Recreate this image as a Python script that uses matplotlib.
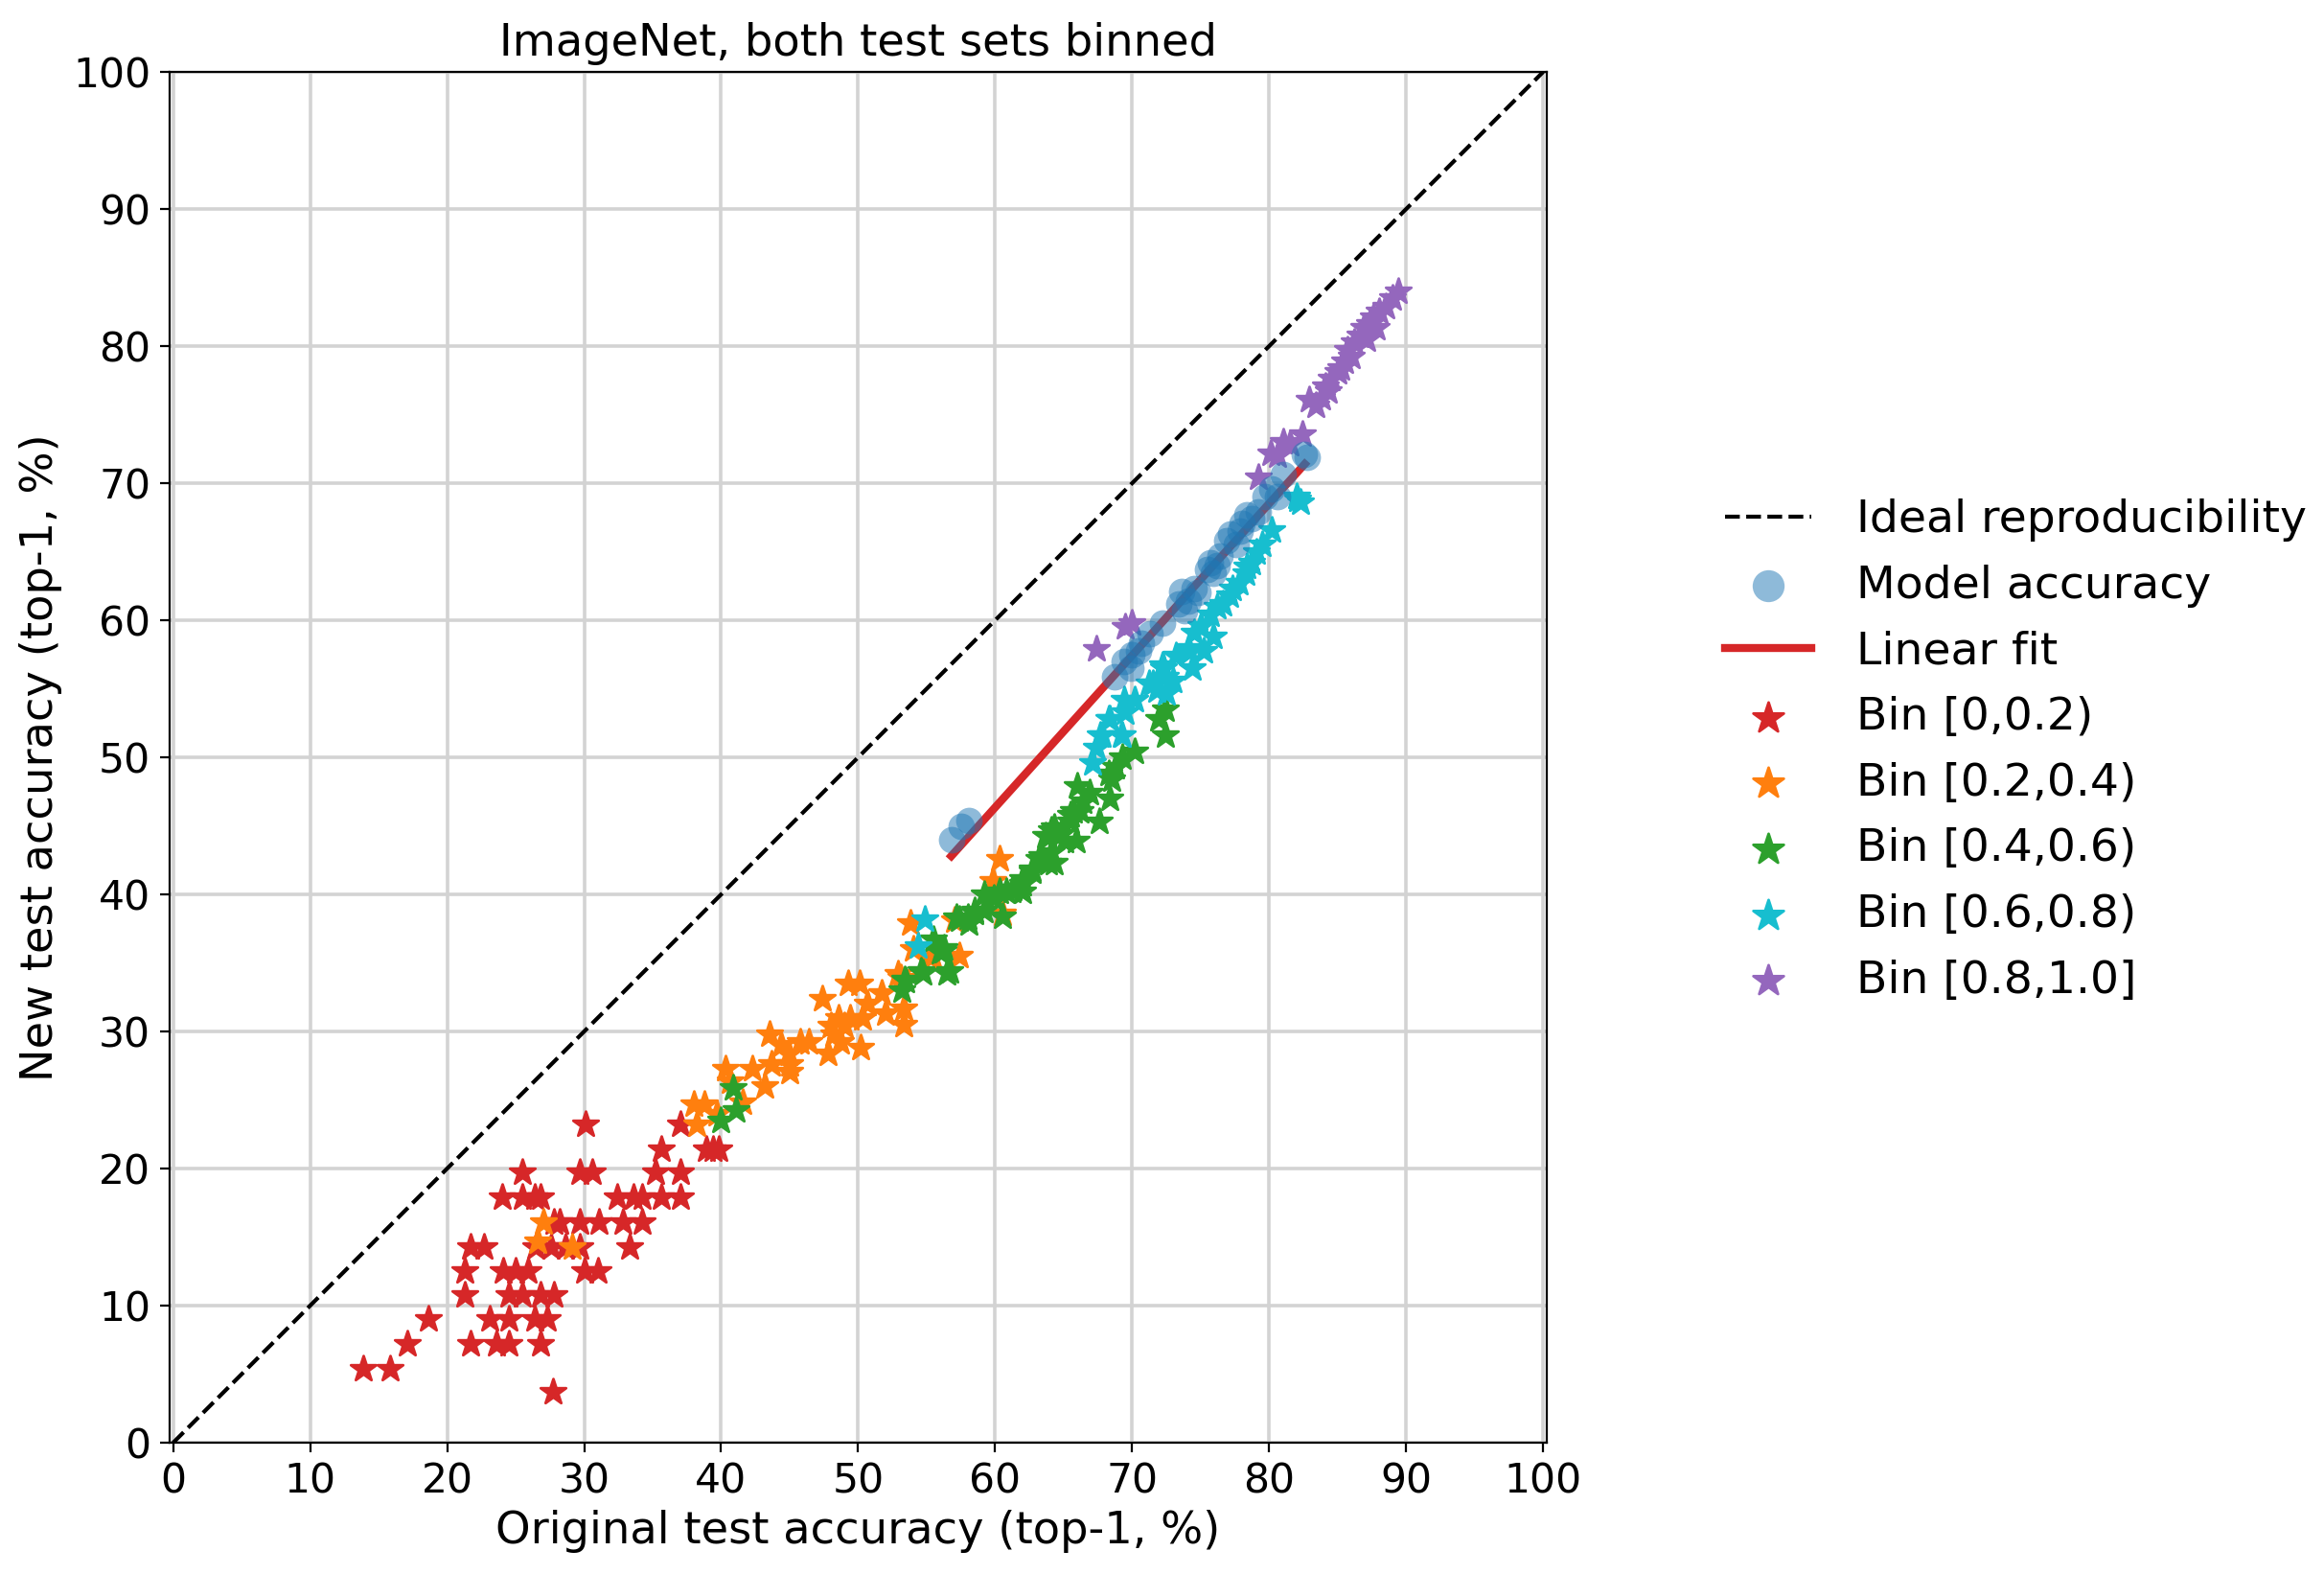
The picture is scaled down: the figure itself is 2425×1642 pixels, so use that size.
import numpy as np
import matplotlib
matplotlib.use('Agg')
import matplotlib.pyplot as plt

# values (original %, new %)
model_x = [56.8, 57.5, 58.1, 68.7, 69.4, 69.9, 70.0, 70.5, 70.7, 71.3, 72.2, 73.4, 73.6, 73.8,
           74.1, 74.5, 74.8, 75.5, 75.7, 75.9, 76.2, 76.4, 76.9, 77.2, 77.6, 77.9, 78.0, 78.4,
           78.7, 79.2, 79.7, 80.2, 80.6, 81.0, 82.6, 82.8]
model_y = [44.0, 45.0, 45.4, 55.9, 57.0, 56.5, 57.5, 57.8, 58.3, 59.0, 59.8, 61.2, 62.1, 60.7,
           61.4, 62.3, 62.0, 63.7, 64.2, 63.4, 64.0, 64.7, 65.8, 66.3, 65.5, 66.5, 67.1, 67.7,
           67.4, 67.9, 69.0, 69.6, 69.0, 70.6, 72.1, 71.9]

fit_x = [56.8, 82.6]
fit_y = [42.8, 71.4]

bin_labels = ['Bin [0,0.2)', 'Bin [0.2,0.4)', 'Bin [0.4,0.6)', 'Bin [0.6,0.8)', 'Bin [0.8,1.0]']
bin_colors = ['tab:red', 'tab:orange', 'tab:green', 'tab:cyan', 'tab:purple']

bin0_x = [30.1, 37.0, 35.6, 38.9, 39.4, 39.8, 25.5, 29.7, 30.6, 35.2, 37.0, 24.0, 25.5, 26.4,
          26.8, 32.4, 33.6, 34.2, 35.6, 37.0, 27.8, 28.2, 29.7, 31.1, 32.8, 34.2, 21.7, 22.7,
          26.5, 27.6, 28.6, 29.7, 33.3, 21.3, 24.1, 25.0, 25.9, 30.0, 31.0, 21.3, 24.5, 25.5,
          26.8, 27.8, 18.6, 23.1, 24.5, 26.4, 27.3, 17.1, 21.7, 23.6, 24.5, 26.8, 13.9, 15.8,
          27.7]
bin0_y = [23.2, 23.2, 21.4, 21.4, 21.4, 21.4, 19.7, 19.7, 19.7, 19.7, 19.7, 17.9, 17.9, 17.9,
          17.9, 17.9, 17.9, 17.9, 17.9, 17.9, 16.1, 16.1, 16.1, 16.1, 16.1, 16.1, 14.3, 14.3,
          14.3, 14.3, 14.3, 14.3, 14.3, 12.5, 12.5, 12.5, 12.5, 12.5, 12.5, 10.8, 10.8, 10.8,
          10.8, 10.8, 9.0, 9.0, 9.0, 9.0, 9.0, 7.2, 7.2, 7.2, 7.2, 7.2, 5.4, 5.4,
          3.7]

bin1_x = [27.0, 26.6, 29.1, 38.0, 38.8, 38.2, 41.6, 39.7, 40.3, 40.7, 42.3, 43.2, 43.7, 45.0,
          45.0, 44.9, 47.8, 44.4, 43.5, 45.8, 46.4, 48.7, 48.2, 50.2, 48.0, 49.0, 48.6, 49.4,
          50.3, 53.3, 52.0, 53.3, 50.7, 47.4, 51.7, 49.3, 50.1, 53.1, 52.9, 55.3, 57.4, 55.4,
          54.0, 53.8, 57.0, 60.5, 59.8, 60.3]
bin1_y = [16.1, 14.7, 14.3, 24.7, 24.7, 23.2, 24.8, 24.0, 27.3, 26.4, 27.3, 26.0, 27.6, 27.6,
          27.1, 28.4, 28.4, 29.0, 29.8, 29.2, 29.2, 29.2, 29.8, 28.8, 30.4, 30.4, 31.0, 31.0,
          31.0, 30.5, 31.3, 31.7, 32.0, 32.4, 32.8, 33.5, 33.5, 33.9, 34.2, 35.4, 35.5, 35.5,
          36.0, 37.9, 38.1, 38.6, 41.0, 42.6]

bin2_x = [40.0, 40.9, 41.1, 53.4, 53.2, 53.5, 54.6, 56.7, 54.7, 56.5, 55.5, 56.3, 56.0, 56.2,
          57.4, 58.1, 58.5, 59.2, 60.5, 59.2, 59.9, 60.3, 61.2, 62.0, 62.0, 62.7, 63.2, 63.9,
          64.1, 63.7, 64.1, 64.6, 65.1, 65.9, 65.5, 66.2, 63.4, 64.3, 64.3, 63.9, 64.8, 65.7,
          65.5, 66.4, 66.0, 66.9, 67.6, 68.4, 68.5, 68.3, 68.8, 69.3, 70.2, 72.4, 71.9, 72.4,
          62.7, 62.0, 61.3, 60.8, 58.5, 58.0, 57.2]
bin2_y = [23.5, 25.9, 24.3, 33.8, 33.0, 33.7, 34.4, 34.4, 34.3, 34.3, 36.7, 36.1, 35.8, 35.9,
          38.2, 37.9, 38.7, 38.8, 38.4, 40.0, 39.7, 40.2, 40.3, 40.8, 40.2, 41.7, 42.6, 42.3,
          43.1, 44.3, 44.7, 44.3, 43.9, 43.9, 45.8, 46.1, 42.8, 42.3, 44.9, 44.2, 44.4, 46.1,
          45.3, 46.8, 47.9, 47.4, 45.3, 47.0, 48.4, 48.8, 49.3, 50.0, 50.4, 51.6, 52.8, 53.5,
          41.8, 41.1, 40.4, 40.2, 38.8, 38.3, 38.3]

bin3_x = [54.9, 54.4, 67.1, 67.4, 67.7, 68.3, 69.3, 69.5, 69.4, 70.2, 71.2, 71.8, 72.3, 73.0,
          72.5, 73.2, 74.4, 74.2, 72.2, 72.4, 71.5, 75.0, 74.5, 74.1, 75.2, 75.9, 75.7, 76.2,
          76.6, 77.1, 77.3, 77.8, 78.3, 78.7, 78.4, 79.1, 79.5, 80.2, 82.0, 82.3, 82.1, 67.8,
          69.2, 68.4]
bin3_y = [38.2, 36.2, 49.6, 50.7, 51.6, 52.8, 51.6, 53.3, 54.2, 54.2, 55.4, 54.9, 56.5, 55.6,
          54.7, 57.4, 56.5, 57.7, 56.7, 55.9, 55.4, 59.6, 59.1, 58.0, 57.8, 58.8, 60.4, 61.0,
          61.2, 61.8, 62.3, 62.7, 63.4, 64.2, 63.9, 65.0, 65.5, 66.6, 69.0, 68.6, 68.8, 51.6,
          51.6, 52.8]

bin4_x = [67.4, 69.5, 70.0, 79.2, 80.1, 80.6, 81.0, 81.5, 82.4, 82.9, 83.4, 83.8, 84.3, 84.1,
          84.5, 85.0, 85.2, 85.5, 85.7, 86.0, 86.2, 86.6, 86.9, 87.1, 87.3, 87.6, 87.8, 88.0,
          88.5, 89.0, 89.4]
bin4_y = [57.9, 59.5, 59.8, 70.4, 72.2, 72.0, 73.0, 72.9, 73.6, 76.1, 75.7, 76.2, 76.7, 77.1,
          77.6, 78.1, 78.4, 78.9, 79.7, 79.2, 80.3, 80.8, 81.3, 80.5, 81.6, 82.1, 81.3, 82.5,
          82.9, 83.5, 84.0]

bins_x = [bin0_x, bin1_x, bin2_x, bin3_x, bin4_x]
bins_y = [bin0_y, bin1_y, bin2_y, bin3_y, bin4_y]

fig = plt.figure(figsize=(12.125, 8.21), dpi=200)
ax = fig.add_axes([0.0729, 0.0834, 0.5927, 0.8709])

ax.plot([0, 100], [0, 100], 'k--', lw=1.5, label='Ideal reproducibility', zorder=2)
ax.scatter(model_x, model_y, s=100, color='tab:blue', alpha=0.5, lw=0,
           label='Model accuracy', zorder=5)
ax.plot(fit_x, fit_y, color='tab:red', lw=3, label='Linear fit', zorder=3)
for bx, by, lab, col in zip(bins_x, bins_y, bin_labels, bin_colors):
    ax.scatter(bx, by, marker='*', s=100, color=col, linewidths=1.0, label=lab, zorder=4)

ax.set_xlim(-0.27, 100.27)
ax.set_ylim(0, 100)
ax.set_xticks(range(0, 101, 10))
ax.set_yticks(range(0, 101, 10))
ax.tick_params(labelsize=15.3)
ax.grid(True, color='lightgray', lw=1.3)
ax.set_axisbelow(True)

ax.set_xlabel('Original test accuracy (top-1, %)', fontsize=16.7, labelpad=3)
ax.set_ylabel('New test accuracy (top-1, %)', fontsize=16.7)
ax.set_title('ImageNet, both test sets binned', fontsize=16.7, pad=6)

ax.legend(loc='center left', bbox_to_anchor=(1.10, 0.505), frameon=False, fontsize=17,
          labelspacing=0.5, handlelength=1.9, handletextpad=1.0, markerscale=1.2)

fig.savefig('out.png', dpi=200)
